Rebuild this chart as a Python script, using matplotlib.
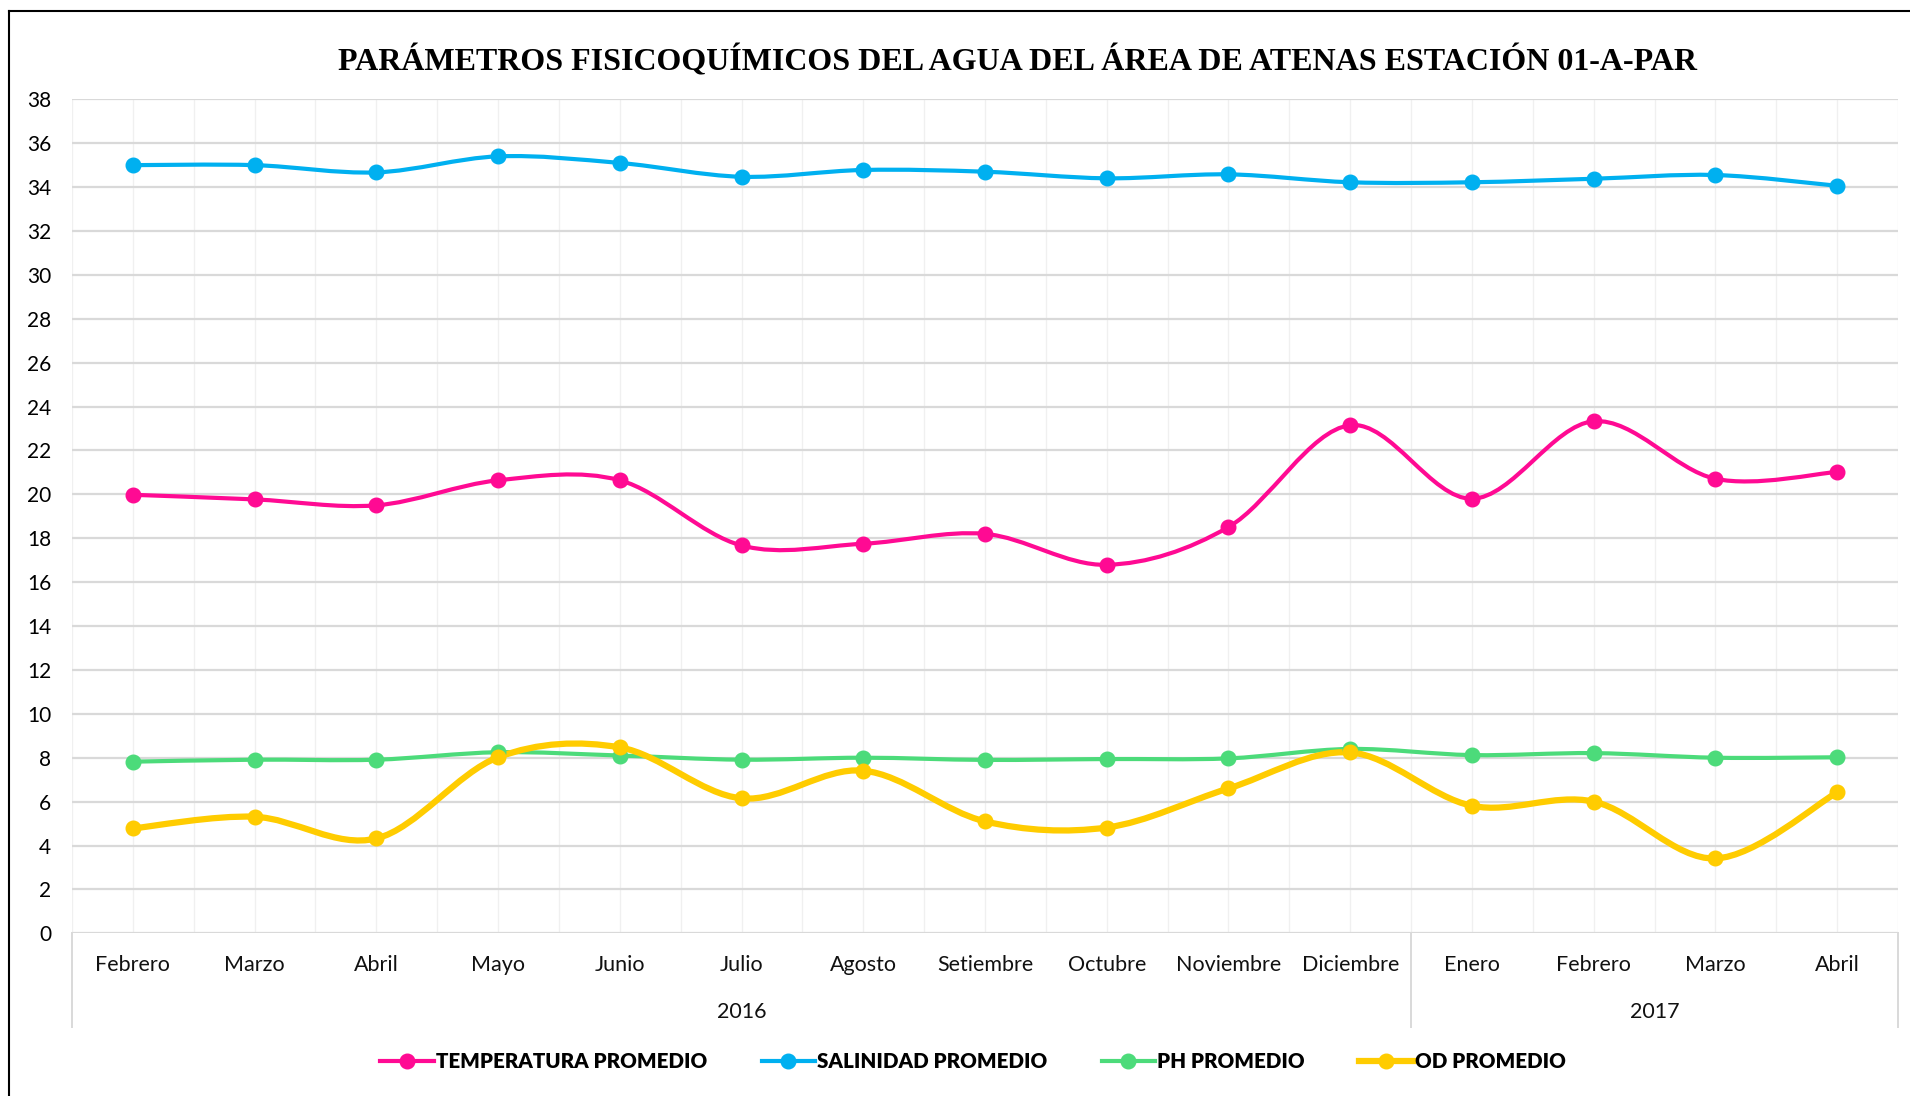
import matplotlib
matplotlib.use("Agg")
import matplotlib.pyplot as plt
from matplotlib.path import Path
from matplotlib.patches import PathPatch
from matplotlib.lines import Line2D
import matplotlib.transforms as mtransforms
import numpy as np

months = ["Febrero", "Marzo", "Abril", "Mayo", "Junio", "Julio", "Agosto", "Setiembre",
          "Octubre", "Noviembre", "Diciembre", "Enero", "Febrero", "Marzo", "Abril"]
years = ["2016", "2017"]
year_counts = [11, 4]

temperatura = [19.98, 19.77, 19.50, 20.64, 20.64, 17.67, 17.75, 18.20, 16.79, 18.51,
               23.15, 19.80, 23.33, 20.71, 21.02]
salinidad = [35.00, 35.00, 34.67, 35.40, 35.10, 34.47, 34.78, 34.70, 34.40, 34.58,
             34.22, 34.22, 34.38, 34.55, 34.06]
ph = [7.82, 7.91, 7.91, 8.25, 8.10, 7.91, 8.00, 7.90, 7.94, 7.97,
      8.40, 8.12, 8.21, 8.00, 8.02]
od = [4.78, 5.31, 4.32, 8.02, 8.47, 6.15, 7.41, 5.10, 4.82, 6.60,
      8.24, 5.81, 6.00, 3.41, 6.42]

series = [
    ("TEMPERATURA PROMEDIO", temperatura, "#FF0A93", 3.0),
    ("SALINIDAD PROMEDIO", salinidad, "#00B0F0", 3.0),
    ("PH PROMEDIO", ph, "#4CDB7A", 3.0),
    ("OD PROMEDIO", od, "#FFCC00", 4.5),
]

title = "PARÁMETROS FISICOQUÍMICOS DEL AGUA DEL ÁREA DE ATENAS ESTACIÓN 01-A-PAR"

W, H = 1910, 1096
fig = plt.figure(figsize=(W / 100, H / 100), dpi=100)
L, R, T, B = 72, 1898, 99.3, 933.3
ax = fig.add_axes([L / W, 1 - B / H, (R - L) / W, (B - T) / H])

sans = ["Lato", "DejaVu Sans"]


def smooth_path(xs, ys):
    pts = np.column_stack([xs, ys])
    n = len(pts)
    verts = [pts[0]]
    codes = [Path.MOVETO]
    for i in range(n - 1):
        p0 = pts[i - 1] if i > 0 else pts[i]
        p1 = pts[i]
        p2 = pts[i + 1]
        p3 = pts[i + 2] if i + 2 < n else pts[i + 1]
        c1 = p1 + (p2 - p0) / 6.0
        c2 = p2 - (p3 - p1) / 6.0
        verts += [c1, c2, p2]
        codes += [Path.CURVE4] * 3
    return Path(verts, codes)


x = np.arange(len(months))
for name, vals, col, lw in series:
    patch = PathPatch(smooth_path(x, vals), facecolor="none", edgecolor=col, lw=lw,
                      capstyle="round", joinstyle="round", zorder=3)
    ax.add_patch(patch)
    ax.plot(x, vals, ls="none", marker="o", ms=10.5, color=col, zorder=4)

ax.set_xlim(-0.5, len(months) - 0.5)
ax.set_ylim(0, 38)
ax.set_yticks(np.arange(0, 39, 2))
ax.set_yticklabels([str(v) for v in range(0, 39, 2)], fontsize=15, family=sans)
ax.tick_params(axis="y", length=0, pad=15)
ax.set_xticks([])
for s in ax.spines.values():
    s.set_visible(False)

for yv in range(0, 39, 2):
    ax.axhline(yv, color="#D9D9D9", lw=1.6, zorder=1)
for xv in np.arange(-0.5, len(months), 0.5):
    ax.axvline(xv, color="#F0F0F0", lw=1.0, zorder=0.5)

trans = mtransforms.blended_transform_factory(ax.transData, ax.transAxes)
for i, m in enumerate(months):
    ax.text(i, -0.038, m, transform=trans, ha="center", va="center", fontsize=15.5,
            family=sans, color="#111111")

bounds = [-0.5]
for c in year_counts:
    bounds.append(bounds[-1] + c)
for j, yr in enumerate(years):
    ax.text((bounds[j] + bounds[j + 1]) / 2, -0.094, yr, transform=trans, ha="center",
            va="center", fontsize=15.5, family=sans, color="#111111")
for bx in bounds:
    ax.plot([bx, bx], [0, -0.112], transform=trans, color="#D9D9D9", lw=1.4, clip_on=False)

fig.text(1017 / W, 1 - 61 / H, title, ha="center", va="center", fontsize=23,
         fontweight="bold", family=["Liberation Serif", "DejaVu Serif"])

handles = [Line2D([0], [0], color=c, lw=lw, marker="o", ms=10.5) for _, _, c, lw in series]
leg = fig.legend(handles, [s[0] for s in series], loc="center",
                 bbox_to_anchor=(973 / W, 1 - 1062 / H), ncol=4, frameon=False,
                 handlelength=2.6, handletextpad=0.1, columnspacing=2.65,
                 prop={"family": sans, "weight": "heavy", "size": 14.8})

# outer border (left and top visible)
fig.add_artist(Line2D([9 / W, 9 / W], [0, 1 - 11 / H], color="black", lw=1.5))
fig.add_artist(Line2D([9 / W, 1], [1 - 11 / H, 1 - 11 / H], color="black", lw=1.5))

fig.savefig("out.png", dpi=100)
